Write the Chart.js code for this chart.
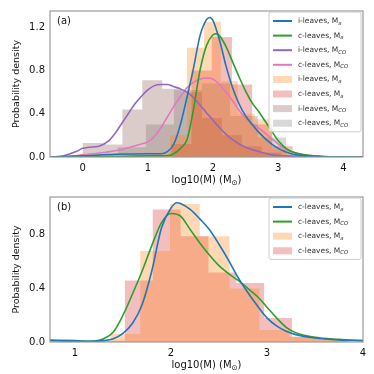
<!DOCTYPE html>
<html>
<head>
<meta charset="utf-8">
<script src="https://cdn.jsdelivr.net/npm/chart.js@4.4.1/dist/chart.umd.min.js"></script>
<style>
  html, body { margin: 0; padding: 0; background: #fff; }
  #wrap { position: relative; width: 374px; height: 374px; }
  canvas { position: absolute; left: 0; }
  #chartA { top: 0; }
  #chartB { top: 186px; }
</style>
</head>
<body>
<div id="wrap">
  <canvas id="chartA" width="374" height="186"></canvas>
  <canvas id="chartB" width="374" height="188"></canvas>
</div>
<script>
// ticks
const xTicksA = [0, 1, 2, 3, 4];
const yTicksA = [0, 0.4, 0.8, 1.2];
const xTicksB = [1, 2, 3, 4];
const yTicksB = [0, 0.4, 0.8];

// panel (a) - kde curves
const aIMaX = [-0.5, 0, 0.5, 1.0, 1.2, 1.3, 1.4, 1.5, 1.6, 1.7, 1.8, 1.9, 1.95, 2.0, 2.1, 2.2, 2.3, 2.4, 2.5, 2.6, 2.7, 2.8, 2.9, 3.0, 3.1, 3.2, 3.4, 3.7, 4.3];
const aIMaY = [0, 0.01, 0.025, 0.03, 0.03, 0.05, 0.12, 0.3, 0.55, 0.82, 1.12, 1.27, 1.29, 1.26, 1.08, 0.84, 0.64, 0.49, 0.38, 0.30, 0.23, 0.17, 0.12, 0.08, 0.05, 0.03, 0.01, 0.003, 0];
const aCMaX = [-0.5, 0.5, 1.0, 1.3, 1.4, 1.5, 1.6, 1.7, 1.8, 1.9, 2.0, 2.05, 2.1, 2.2, 2.3, 2.4, 2.5, 2.6, 2.7, 2.8, 2.9, 3.0, 3.1, 3.2, 3.4, 3.7, 4.3];
const aCMaY = [0, 0.005, 0.01, 0.012, 0.03, 0.08, 0.16, 0.44, 0.8, 1.03, 1.13, 1.14, 1.12, 1.02, 0.88, 0.74, 0.61, 0.50, 0.42, 0.33, 0.24, 0.15, 0.09, 0.05, 0.02, 0.005, 0];
const aICoX = [-0.5, -0.3, -0.1, 0, 0.1, 0.25, 0.4, 0.5, 0.6, 0.7, 0.8, 0.9, 1.0, 1.1, 1.2, 1.3, 1.4, 1.5, 1.6, 1.7, 1.8, 1.9, 2.0, 2.1, 2.2, 2.3, 2.4, 2.5, 2.7, 2.9, 3.1, 3.4, 4.3];
const aICoY = [0, 0.01, 0.05, 0.08, 0.09, 0.10, 0.15, 0.22, 0.31, 0.40, 0.49, 0.56, 0.62, 0.66, 0.67, 0.67, 0.65, 0.63, 0.60, 0.55, 0.48, 0.41, 0.34, 0.27, 0.21, 0.16, 0.12, 0.09, 0.05, 0.02, 0.01, 0.003, 0];
const aCCoX = [-0.5, -0.2, 0, 0.3, 0.6, 0.9, 1.0, 1.1, 1.2, 1.3, 1.4, 1.5, 1.6, 1.7, 1.8, 1.9, 2.0, 2.1, 2.2, 2.3, 2.4, 2.5, 2.6, 2.7, 2.8, 2.9, 3.0, 3.1, 3.2, 3.4, 3.7, 4.3];
const aCCoY = [0, 0.005, 0.02, 0.04, 0.07, 0.12, 0.14, 0.19, 0.27, 0.37, 0.47, 0.56, 0.64, 0.69, 0.72, 0.73, 0.72, 0.67, 0.60, 0.52, 0.43, 0.36, 0.31, 0.27, 0.22, 0.17, 0.12, 0.08, 0.05, 0.02, 0.005, 0];

// panel (a) - histograms (bin edges, heights)
const aIMaEdges = [1.08, 1.34, 1.60, 1.86, 2.12, 2.38, 2.64, 2.90, 3.16];
const aIMaHeights = [0.03, 0.2, 1.01, 1.25, 0.7, 0.4, 0.35, 0.07];
const aCMaEdges = [1.36, 1.67, 1.98, 2.29, 2.60, 2.91, 3.22, 3.53];
const aCMaHeights = [0.12, 0.80, 1.11, 0.67, 0.30, 0.10, 0.02];
const aICoEdges = [0, 0.305, 0.61, 0.915, 1.22, 1.525, 1.83, 2.135, 2.44, 2.745, 3.05];
const aICoHeights = [0.13, 0.115, 0.44, 0.71, 0.63, 0.6, 0.36, 0.2, 0.1, 0.04];
const aCCoEdges = [0.11, 0.54, 0.97, 1.40, 1.83, 2.26, 2.69, 3.12, 3.55];
const aCCoHeights = [0.03, 0.09, 0.30, 0.62, 0.68, 0.38, 0.18, 0.02];

// panel (b) - kde curves
const bCMaX = [0.74, 1.0, 1.2, 1.3, 1.4, 1.5, 1.6, 1.7, 1.8, 1.9, 2.0, 2.06, 2.1, 2.2, 2.3, 2.4, 2.5, 2.6, 2.7, 2.8, 2.9, 3.0, 3.1, 3.2, 3.3, 3.5, 3.75, 4.0];
const bCMaY = [0.015, 0.01, 0.005, 0.01, 0.025, 0.065, 0.14, 0.28, 0.53, 0.85, 1.0, 1.04, 1.035, 0.99, 0.92, 0.84, 0.73, 0.61, 0.48, 0.37, 0.27, 0.18, 0.12, 0.08, 0.055, 0.03, 0.015, 0.01];
const bCCoX = [0.74, 1.0, 1.2, 1.3, 1.4, 1.5, 1.6, 1.7, 1.8, 1.9, 2.0, 2.1, 2.2, 2.3, 2.4, 2.5, 2.6, 2.7, 2.8, 2.9, 3.0, 3.1, 3.2, 3.3, 3.5, 3.75, 4.0];
const bCCoY = [0.01, 0.005, 0.008, 0.025, 0.075, 0.2, 0.36, 0.53, 0.72, 0.89, 0.96, 0.94, 0.84, 0.74, 0.65, 0.57, 0.51, 0.46, 0.40, 0.34, 0.26, 0.18, 0.11, 0.07, 0.035, 0.02, 0.01];

// panel (b) - histograms
const bCMaEdges = [1.37, 1.68, 1.99, 2.30, 2.61, 2.92, 3.23, 3.54, 3.85];
const bCMaHeights = [0.06, 0.68, 1.03, 0.79, 0.40, 0.09, 0.04, 0.02];
const bCCoEdges = [1.23, 1.52, 1.81, 2.10, 2.39, 2.68, 2.97, 3.26, 3.55, 3.84];
const bCCoHeights = [0.01, 0.46, 0.99, 0.79, 0.52, 0.44, 0.18, 0.04, 0.02];

const FONT = '"DejaVu Sans", sans-serif';
const INK = '#111';
Chart.defaults.font.family = FONT;
Chart.defaults.color = INK;

function curve(xs, ys) {
    return xs.map((x, i) => ({x: x, y: ys[i]}));
}

function steps(edges, heights) {
    return edges.map((e, i) => ({x: e, y: heights[Math.min(i, heights.length - 1)]}));
}

function lineSet(label, xs, ys, color) {
    return {
        label: label, data: curve(xs, ys),
        borderColor: color, borderWidth: 1.6,
        pointRadius: 0, fill: false,
        cubicInterpolationMode: 'monotone'
    };
}

function histSet(label, edges, heights, color) {
    return {
        label: label, data: steps(edges, heights), kind: 'hist',
        borderColor: 'rgba(0,0,0,0)', borderWidth: 0,
        backgroundColor: color, pointRadius: 0,
        fill: 'origin', stepped: true, tension: 0
    };
}

// text with one subscript: "main_{sub}tail"
function drawSubText(ctx, text, x, y, size, align) {
    const m = text.match(/^(.*)_\{(.*)\}(.*)$/);
    const main = m ? m[1] : text, sub = m ? m[2] : '', tail = m ? m[3] : '';
    const big = size + 'px ' + FONT, small = 'italic ' + (size * 0.72) + 'px ' + FONT;
    ctx.font = big; const w1 = ctx.measureText(main).width, w3 = ctx.measureText(tail).width;
    ctx.font = small; const w2 = ctx.measureText(sub).width;
    let cx = align === 'center' ? x - (w1 + w2 + w3) / 2 : x;
    ctx.textAlign = 'left';
    ctx.textBaseline = 'middle';
    ctx.font = big; ctx.fillText(main, cx, y); cx += w1;
    ctx.font = small; ctx.fillText(sub, cx, y + size * 0.28); cx += w2;
    ctx.font = big; ctx.fillText(tail, cx, y);
}

const extras = {
    id: 'extras',
    afterDraw(chart, args, opts) {
        const ctx = chart.ctx, ca = chart.chartArea;
        ctx.save();
        // frame
        ctx.strokeStyle = '#9a9a9a';
        ctx.lineWidth = 1.2;
        ctx.strokeRect(ca.left, ca.top, ca.right - ca.left, ca.bottom - ca.top);

        ctx.fillStyle = INK;
        ctx.font = '10px ' + FONT;
        ctx.textBaseline = 'middle';
        ctx.textAlign = 'left';
        ctx.fillText(opts.tag, ca.left + 7, ca.top + 10);

        drawSubText(ctx, 'log10(M) (M_{\u2299})', (ca.left + ca.right) / 2, opts.xTitleY, 10, 'center');

        ctx.save();
        ctx.translate(17, (ca.top + ca.bottom) / 2);
        ctx.rotate(-Math.PI / 2);
        ctx.font = '9.5px ' + FONT;
        ctx.textAlign = 'center';
        ctx.fillText('Probability density', 0, 0);
        ctx.restore();

        // legend
        const sets = chart.data.datasets;
        const rowH = 14.6, bw = 92, bh = sets.length * rowH + 3;
        const bx = ca.right - 2 - bw, by = ca.top + 1;
        ctx.fillStyle = 'rgba(255,255,255,0.8)';
        ctx.strokeStyle = '#cccccc';
        ctx.lineWidth = 1;
        ctx.beginPath();
        if (ctx.roundRect) ctx.roundRect(bx, by, bw, bh, 2); else ctx.rect(bx, by, bw, bh);
        ctx.fill();
        ctx.stroke();
        sets.forEach((ds, i) => {
            const cy = by + 9 + i * rowH;
            if (ds.kind === 'hist') {
                ctx.fillStyle = ds.backgroundColor;
                ctx.fillRect(bx + 4, cy - 3.5, 19, 7);
            } else {
                ctx.strokeStyle = ds.borderColor;
                ctx.lineWidth = 2;
                ctx.beginPath();
                ctx.moveTo(bx + 4, cy);
                ctx.lineTo(bx + 23, cy);
                ctx.stroke();
            }
            ctx.fillStyle = '#333';
            drawSubText(ctx, ds.label, bx + 29, cy, 7.5, 'left');
        });
        ctx.restore();
    }
};

function makeChart(id, datasets, xMin, xMax, yMax, xTicks, yTicks, padTop, axisH, tag, xTitleY) {
    return new Chart(document.getElementById(id), {
        type: 'line',
        data: {datasets: datasets},
        options: {
            responsive: false,
            animation: false,
            devicePixelRatio: 1,
            layout: {padding: {top: padTop, right: 11, left: 0, bottom: 0}},
            plugins: {
                legend: {display: false},
                tooltip: {enabled: false},
                extras: {tag: tag, xTitleY: xTitleY}
            },
            scales: {
                x: {
                    type: 'linear', min: xMin, max: xMax,
                    afterBuildTicks: s => { s.ticks = xTicks.map(v => ({value: v})); },
                    afterFit: s => { s.height = axisH; },
                    grid: {display: false, drawTicks: false},
                    border: {display: false},
                    ticks: {padding: 5, font: {size: 10}, color: INK, maxRotation: 0, callback: v => String(v)}
                },
                y: {
                    type: 'linear', min: 0, max: yMax,
                    afterBuildTicks: s => { s.ticks = yTicks.map(v => ({value: v})); },
                    afterFit: s => { s.width = 50; },
                    grid: {display: false, drawTicks: false},
                    border: {display: false},
                    ticks: {padding: 5, font: {size: 10}, color: INK, callback: v => v.toFixed(1)}
                }
            }
        },
        plugins: [extras]
    });
}

makeChart('chartA', [
    lineSet('i-leaves, M_{a}', aIMaX, aIMaY, '#1f77b4'),
    lineSet('c-leaves, M_{a}', aCMaX, aCMaY, '#2ca02c'),
    lineSet('i-leaves, M_{CO}', aICoX, aICoY, '#9467bd'),
    lineSet('c-leaves, M_{CO}', aCCoX, aCCoY, '#e377c2'),
    histSet('i-leaves, M_{a}', aIMaEdges, aIMaHeights, 'rgba(255,127,14,0.3)'),
    histSet('c-leaves, M_{a}', aCMaEdges, aCMaHeights, 'rgba(214,39,40,0.3)'),
    histSet('i-leaves, M_{CO}', aICoEdges, aICoHeights, 'rgba(140,86,75,0.3)'),
    histSet('c-leaves, M_{CO}', aCCoEdges, aCCoHeights, 'rgba(127,127,127,0.3)')
], -0.5, 4.3, 1.35, xTicksA, yTicksA, 5, 29, '(a)', 180);

makeChart('chartB', [
    lineSet('c-leaves, M_{a}', bCMaX, bCMaY, '#1f77b4'),
    lineSet('c-leaves, M_{CO}', bCCoX, bCCoY, '#2ca02c'),
    histSet('c-leaves, M_{a}', bCMaEdges, bCMaHeights, 'rgba(255,127,14,0.3)'),
    histSet('c-leaves, M_{CO}', bCCoEdges, bCCoHeights, 'rgba(214,39,40,0.3)')
], 0.74, 4.0, 1.083, xTicksB, yTicksB, 3, 32, '(b)', 179);
</script>
</body>
</html>
